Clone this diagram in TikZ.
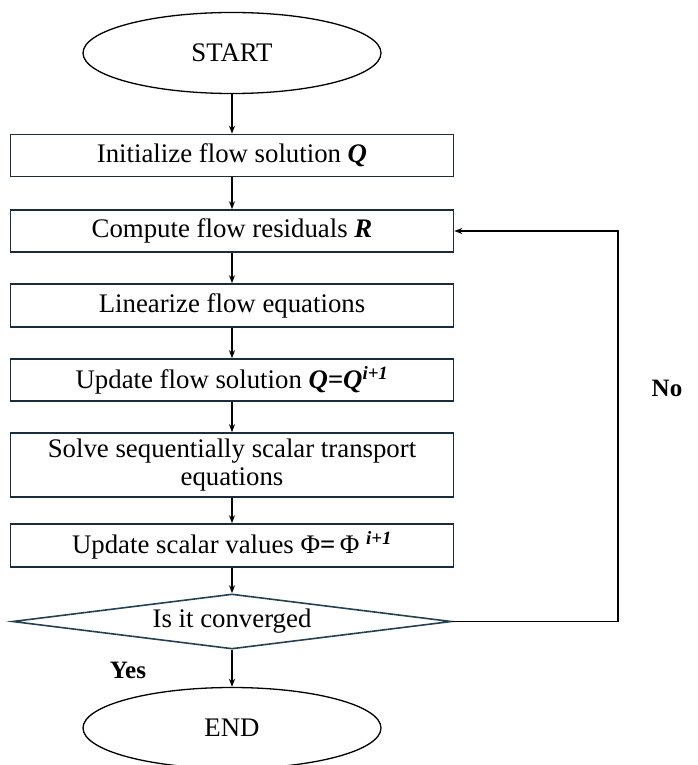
\documentclass[tikz,border=0pt]{standalone}
\usepackage{fontspec}
\setmainfont{Liberation Serif}
\usetikzlibrary{shapes.geometric,arrows.meta}
\definecolor{boxline}{RGB}{25,45,60}
\definecolor{dialine}{RGB}{35,65,85}
\begin{document}
\begin{tikzpicture}[x=1pt,y=-1pt,
  every node/.style={font=\fontsize{26.8}{31}\selectfont},
  term/.style={ellipse,draw=black,line width=1.3pt,minimum width=298pt,minimum height=81pt,inner sep=0pt},
  procbox/.style={rectangle,draw=boxline,line width=1.6pt,minimum width=443pt,inner sep=0pt,align=center},
  decide/.style={diamond,draw=dialine,line width=1.6pt,minimum width=439pt,minimum height=55pt,aspect=8,inner sep=0pt},
  flow/.style={line width=1.3pt,-{Stealth[length=8pt,width=6pt]}},
  lbl/.style={font=\fontsize{25}{29}\selectfont\bfseries}]
\useasboundingbox (0,0) rectangle (698,765);
\node[term] (start) at (232,53) {START};
\node[procbox,minimum height=42pt] (b1) at (232,155.5) {Initialize flow solution \textbf{\textit{Q}}};
\node[procbox,minimum height=42pt] (b2) at (232,231) {Compute flow residuals \textbf{\textit{R}}};
\node[procbox,minimum height=43pt] (b3) at (232,305.5) {Linearize flow equations};
\node[procbox,minimum height=42pt] (b4) at (232,380) {Update flow solution \textbf{\textit{Q=Q}}\textsuperscript{\textbf{\textit{i+1}}}};
\node[procbox,minimum height=64pt] (b5) at (232,465) {Solve sequentially scalar transport\\[-3pt]equations};
\node[procbox,minimum height=43pt] (b6) at (232,545.5) {Update scalar values Φ\textbf{=}\,Φ \textsuperscript{\textbf{\textit{i+1}}}};
\node[decide] (dia) at (232,621.5) {Is it converged};
\node[term] (end) at (232,728) {END};
\coordinate (loopc) at (618,621.5);
\node[lbl] (no) at (667,388) {No};
\node[lbl] (yes) at (128,670) {Yes};
\draw[flow] (start) -- (b1);
\draw[flow] (b1) -- (b2);
\draw[flow] (b2) -- (b3);
\draw[flow] (b3) -- (b4);
\draw[flow] (b4) -- (b5);
\draw[flow] (b5) -- (b6);
\draw[flow] (b6) -- (dia);
\draw[flow] (dia) -- (end);
\draw[flow] (dia.east) -- (loopc) |- (b2.east);
\end{tikzpicture}
\end{document}
